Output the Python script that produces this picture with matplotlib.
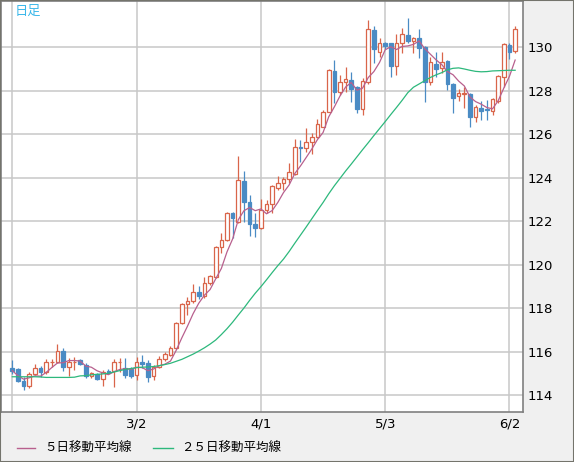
import numpy as np
import pandas as pd
import matplotlib
matplotlib.use("Agg")
import matplotlib.pyplot as plt
from matplotlib.lines import Line2D
from matplotlib.patches import Rectangle

# 日足データ (始値, 高値, 安値, 終値)
opens = [115.24, 115.18, 114.66, 114.41, 114.98, 115.24, 115.04, 115.50, 115.53, 116.02,
         115.30, 115.50, 115.61, 115.38, 114.86, 114.97, 114.75, 115.10, 115.10, 115.50,
         115.26, 115.20, 114.90, 115.52, 115.45, 114.89, 115.30, 115.64, 115.85, 116.14,
         117.29, 118.17, 118.32, 118.75, 118.57, 119.13, 119.44, 120.79, 121.13, 122.38,
         121.97, 123.84, 122.89, 121.86, 121.66, 122.49, 122.77, 123.53, 123.76, 123.92,
         124.14, 125.42, 125.34, 125.65, 125.88, 126.34, 127.03, 128.90, 127.92, 128.38,
         128.48, 128.18, 127.15, 128.41, 130.78, 129.78, 130.17, 130.17, 129.13, 130.17,
         130.55, 130.29, 130.40, 130.02, 128.38, 129.22, 129.02, 129.36, 128.30, 127.75,
         127.84, 127.82, 126.80, 127.21, 127.15, 127.06, 127.53, 128.64, 130.09, 129.83]
highs = [115.61, 115.23, 114.84, 115.04, 115.41, 115.33, 115.66, 115.66, 116.35, 116.15,
         115.69, 115.73, 115.66, 115.49, 115.07, 115.03, 115.17, 115.18, 115.64, 115.72,
         115.69, 115.30, 115.76, 115.84, 115.61, 115.38, 115.79, 116.00, 116.25, 117.37,
         118.21, 118.52, 119.10, 119.01, 119.44, 119.52, 120.85, 121.43, 122.43, 122.43,
         124.99, 124.30, 123.19, 122.35, 123.01, 122.97, 123.67, 124.07, 124.04, 124.65,
         125.75, 125.72, 126.26, 126.03, 126.67, 127.10, 128.97, 129.40, 128.71, 129.10,
         128.87, 128.21, 128.56, 131.24, 130.98, 130.43, 130.25, 130.20, 130.58, 130.86,
         131.35, 130.44, 130.81, 130.06, 129.55, 129.79, 129.76, 129.40, 128.36, 128.07,
         128.15, 127.87, 127.33, 127.52, 127.56, 127.64, 128.71, 130.17, 130.20, 130.98]
lows = [114.95, 114.61, 114.23, 114.31, 114.90, 114.84, 114.98, 115.29, 115.47, 115.12,
        114.87, 115.14, 115.38, 114.80, 114.80, 114.68, 114.41, 114.95, 114.35, 115.07,
        114.80, 114.80, 114.69, 115.23, 114.61, 114.69, 115.23, 115.58, 115.79, 116.10,
        117.26, 117.68, 118.24, 118.40, 118.44, 119.06, 119.36, 120.54, 121.10, 121.20,
        121.92, 121.97, 121.31, 121.25, 121.63, 122.35, 122.38, 123.43, 123.43, 123.76,
        124.12, 124.73, 125.19, 125.08, 125.80, 126.31, 126.99, 127.44, 127.79, 127.95,
        127.49, 126.98, 126.87, 128.30, 129.25, 129.56, 129.90, 128.64, 128.71, 129.71,
        130.17, 129.74, 129.48, 127.49, 128.25, 128.64, 128.79, 128.02, 126.95, 127.53,
        127.20, 126.34, 126.57, 126.64, 126.64, 126.87, 127.41, 128.18, 129.43, 129.71]
closes = [115.12, 114.66, 114.41, 114.98, 115.24, 115.04, 115.53, 115.54, 116.02, 115.30,
          115.53, 115.54, 115.43, 114.86, 115.03, 114.72, 115.04, 115.03, 115.53, 115.54,
          114.92, 114.88, 115.52, 115.44, 114.84, 115.30, 115.64, 115.87, 116.16, 117.29,
          118.17, 118.32, 118.75, 118.57, 119.13, 119.47, 120.79, 121.13, 122.38, 122.12,
          123.88, 122.86, 121.86, 121.66, 122.51, 122.77, 123.61, 123.73, 123.92, 124.27,
          125.39, 125.34, 125.65, 125.88, 126.44, 127.03, 128.94, 127.95, 128.38, 128.51,
          128.07, 127.15, 128.44, 130.81, 129.89, 130.17, 130.05, 129.14, 130.17, 130.60,
          130.29, 130.40, 129.94, 128.38, 129.33, 129.00, 129.33, 128.30, 127.67, 127.87,
          127.88, 126.80, 127.23, 127.07, 127.10, 127.59, 128.67, 130.14, 129.79, 130.81]

# ２５日移動平均線 (チャートから読み取り)
ma25 = [114.84, 114.84, 114.84, 114.84, 114.84, 114.83, 114.81, 114.81, 114.81, 114.81,
        114.81, 114.82, 114.88, 114.89, 114.93, 114.95, 114.97, 115.00, 115.06, 115.12,
        115.18, 115.22, 115.26, 115.28, 115.29, 115.31, 115.35, 115.40, 115.46, 115.55,
        115.64, 115.76, 115.88, 116.02, 116.17, 116.34, 116.53, 116.78, 117.05, 117.35,
        117.68, 118.00, 118.35, 118.68, 118.98, 119.30, 119.63, 119.95, 120.25, 120.60,
        120.98, 121.35, 121.72, 122.10, 122.48, 122.85, 123.25, 123.62, 123.96, 124.30,
        124.62, 124.95, 125.28, 125.60, 125.93, 126.25, 126.57, 126.90, 127.22, 127.55,
        127.90, 128.15, 128.30, 128.45, 128.60, 128.72, 128.82, 128.95, 129.02, 129.04,
        128.99, 128.93, 128.88, 128.86, 128.87, 128.90, 128.91, 128.92, 128.93, 128.93]

tick_pos = [0, 22, 44, 66, 88]
tick_labels = ["", "3/2", "4/1", "5/3", "6/2"]
y_ticks = [114, 116, 118, 120, 122, 124, 126, 128, 130]

df = pd.DataFrame({"open": opens, "high": highs, "low": lows, "close": closes})
df["ma5"] = df["close"].rolling(5, min_periods=1).mean()
x = np.arange(len(df))

c_up = "#d9654a"
c_dn = "#4a8bc4"
c_ma5 = "#b8608e"
c_ma25 = "#2db87c"

W, H = 574, 462
fig = plt.figure(figsize=(W / 100, H / 100), dpi=100, facecolor="#f0f0f0")
ax = fig.add_axes([1 / W, 50 / H, 522 / W, 411 / H])
ax.set_facecolor("white")

ax.set_xlim(-2.0, 90.39)
ax.set_ylim(113.22, 132.115)

ax.set_xticks(tick_pos)
ax.set_xticklabels(tick_labels)
ax.set_yticks(y_ticks)
ax.yaxis.tick_right()
ax.tick_params(length=0, labelsize=9.5, colors="black", pad=4)
ax.tick_params(axis="y", pad=3)
ax.grid(True, color="#c8c8c8", lw=1.1)
ax.set_axisbelow(True)
for s in ax.spines.values():
    s.set_color("#808080")
    s.set_linewidth(1.2)

# ローソク足
up = df["close"] >= df["open"]
ax.vlines(x[up], df["low"][up], df["high"][up], color=c_up, lw=0.9, zorder=2)
ax.vlines(x[~up], df["low"][~up], df["high"][~up], color=c_dn, lw=0.9, zorder=2)
body_lo = np.minimum(df["open"], df["close"])
body_h = np.maximum(np.abs(df["close"] - df["open"]), 0.03)
ax.bar(x[up], body_h[up], bottom=body_lo[up], width=0.64,
       facecolor="white", edgecolor=c_up, lw=0.9, zorder=3)
ax.bar(x[~up], body_h[~up], bottom=body_lo[~up], width=0.64,
       facecolor=c_dn, edgecolor=c_dn, lw=0.9, zorder=3)

# 移動平均線
ax.plot(x, df["ma5"], color=c_ma5, lw=0.9, zorder=4)
ax.plot(x, ma25, color=c_ma25, lw=0.9, zorder=4)

jp = ["Noto Sans CJK JP", "DejaVu Sans"]
fig.text(15 / W, 1 - 11 / H, "日足", color="#3cb8ea", fontsize=9.5,
         family=jp, va="center", ha="left")

# 凡例
ly = 1 - 448 / H
fig.add_artist(Line2D([17 / W, 35 / W], [ly, ly], color=c_ma5, lw=1.0))
fig.text(44 / W, ly, "５日移動平均線", fontsize=9, family=jp, va="center", ha="left")
fig.add_artist(Line2D([153 / W, 173 / W], [ly, ly], color=c_ma25, lw=1.0))
fig.text(181 / W, ly, "２５日移動平均線", fontsize=9, family=jp, va="center", ha="left")

fig.add_artist(Rectangle((0, 0), 1, 1, transform=fig.transFigure, fill=False,
                         edgecolor="#74746c", lw=1.5))

fig.savefig("out.png", dpi=100, facecolor=fig.get_facecolor())
